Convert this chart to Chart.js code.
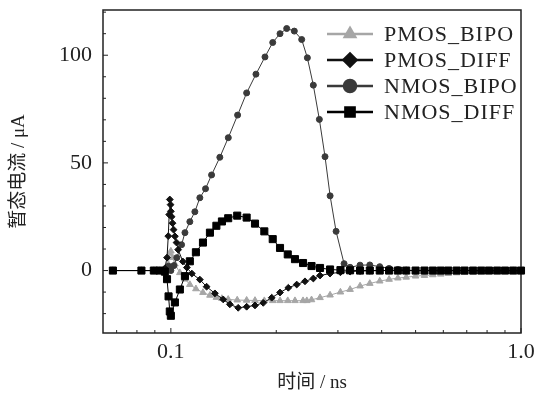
<!DOCTYPE html>
<html>
<head>
<meta charset="utf-8">
<script src="https://cdn.jsdelivr.net/npm/chart.js@4"></script>
<style>
  html, body { margin: 0; padding: 0; background: #fff; }
  #wrap { width: 539px; height: 397px; }
</style>
</head>
<body>
<div id="wrap"><canvas id="currentChart" width="539" height="397"></canvas></div>
<script>
// Transient current (uA) vs. time (ns) for each device / collection mechanism
const seriesNames = ['PMOS_BIPO', 'PMOS_DIFF', 'NMOS_BIPO', 'NMOS_DIFF'];

const pmosBipoTime = [0.0683, 0.0824, 0.0894, 0.093, 0.0961, 0.0983, 0.0993, 0.1, 0.1011, 0.1027,
  0.1061, 0.1097, 0.1133, 0.1179, 0.1235, 0.1293, 0.1349, 0.1399, 0.1458, 0.1547, 0.1646, 0.1739,
  0.1849, 0.1954, 0.205, 0.2157, 0.2262, 0.2385, 0.2445, 0.2522, 0.2667, 0.2849,
  0.305, 0.325, 0.347, 0.37, 0.395, 0.42, 0.445, 0.47, 0.5, 0.53, 0.56, 0.59, 0.62, 0.655, 0.69,
  0.73, 0.77, 0.81, 0.855, 0.9, 0.95, 1.0];
const pmosBipoCurrent = [0, 0, 0, 0, 0, 3, 8, 9, 6, 3,
  -1, -4, -6.5, -8.5, -10.2, -11.5, -12.5, -13, -13.4, -13.7, -13.8, -13.9,
  -14, -14, -14, -14, -14, -14, -14, -13.6, -12.6, -11.4,
  -10, -8.8, -7.2, -6, -4.9, -4.1, -3.5, -3.1, -2.6, -2.3, -2, -1.7, -1.4, -1.1, -0.9,
  -0.7, -0.5, -0.4, -0.25, -0.15, -0.05, 0];

const pmosDiffTime = [0.0683, 0.0824, 0.0894, 0.093, 0.0961, 0.0975, 0.0983, 0.0989, 0.0993, 0.0998,
  0.1, 0.1005, 0.1011, 0.1018, 0.1027, 0.1038, 0.1049,
  0.1082, 0.1111, 0.1148, 0.121, 0.1265, 0.1336, 0.1411, 0.1474, 0.1557, 0.1646, 0.1739, 0.1836,
  0.1941, 0.205, 0.2165, 0.2288, 0.2416, 0.2552, 0.2667, 0.2849,
  0.305, 0.325, 0.347, 0.37, 0.395, 0.42, 0.445, 0.47, 0.5, 0.53, 0.56, 0.59, 0.62, 0.655, 0.69,
  0.73, 0.77, 0.81, 0.855, 0.9, 0.95, 1.0];
const pmosDiffCurrent = [0, 0, 0, 0, 1, 6, 16, 26, 33, 30.6,
  27.5, 25, 22, 19, 15.9, 13, 9.7,
  4.2, 1.4, -1.4, -4.2, -7.5, -10.6, -13.4, -15.7, -17.3, -16.8, -16.2, -15,
  -12.6, -10.2, -8, -6.5, -5, -3.7, -2.3, -1.4,
  -0.8, -0.5, -0.2, -0.1, 0, 0, 0, 0, 0, 0, 0, 0, 0, 0, 0,
  0, 0, 0, 0, 0, 0, 0];

const nmosBipoTime = [0.0683, 0.0824, 0.0894, 0.093, 0.0961, 0.0985, 0.1, 0.102, 0.104, 0.1073,
  0.1097, 0.1133, 0.1171, 0.121, 0.1256, 0.1307, 0.138, 0.1459, 0.1551, 0.1646, 0.175, 0.1857,
  0.1954, 0.205, 0.2142, 0.2252, 0.2364, 0.2454, 0.2552, 0.2655, 0.2756, 0.285, 0.2964, 0.3124,
  0.325, 0.347, 0.37, 0.395, 0.42, 0.445, 0.47, 0.5, 0.53, 0.56, 0.59, 0.62, 0.655, 0.69,
  0.73, 0.77, 0.81, 0.855, 0.9, 0.95, 1.0];
const nmosBipoCurrent = [0, 0, 0, 0, -1, 2, 0, 2.3, 6, 12,
  17.6, 22.7, 27.3, 33.8, 38, 44.4, 52.6, 61.7, 72.2, 82.5, 91.2, 99.2,
  105.9, 110, 112.4, 111.2, 107.3, 98.8, 86.1, 70.2, 52.9, 34.7, 18.2, 3.2,
  1.5, 2.5, 2.6, 1.8, 1.0, 0.5, 0.2, 0, 0, 0, 0, 0, 0, 0,
  0, 0, 0, 0, 0, 0, 0];

const nmosDiffTime = [0.0683, 0.0824, 0.0894, 0.093, 0.0961, 0.0975, 0.0985, 0.0993, 0.1,
  0.1027, 0.1061, 0.1097, 0.1133, 0.1179, 0.1235, 0.1293, 0.1349, 0.1399, 0.1458, 0.1547, 0.1646,
  0.1739, 0.1849, 0.1954, 0.205, 0.2157, 0.2262, 0.2385, 0.2522, 0.2667, 0.2849,
  0.305, 0.325, 0.347, 0.37, 0.395, 0.42, 0.445, 0.47, 0.5, 0.53, 0.56, 0.59, 0.62, 0.655, 0.69,
  0.73, 0.77, 0.81, 0.855, 0.9, 0.95, 1.0];
const nmosDiffCurrent = [0, 0, 0, 0, -0.5, -4, -12, -19, -21,
  -14.8, -8.8, -2.6, 4.3, 8.5, 13, 17.6, 20.8, 22.8, 24.3, 25.5, 24.6,
  21.8, 18.2, 14.6, 10.5, 7.5, 5.3, 3.5, 2.1, 1.2, 0.5,
  0.2, 0.1, 0, 0, 0, 0, 0, 0, 0, 0, 0, 0, 0, 0, 0,
  0, 0, 0, 0, 0, 0, 0];

// axis ticks
const xTickLabels = [0.1, 1.0];
const xMinorTicks = [0.07, 0.08, 0.09, 0.2, 0.3, 0.4, 0.5, 0.6, 0.7, 0.8, 0.9];
const yTickLabels = [0, 50, 100];
const yMinorTicks = [-20, -10, 10, 20, 30, 40, 60, 70, 80, 90, 110, 120];

const toPoints = (ts, vs) => ts.map((t, i) => ({ x: t, y: vs[i] }));

const serifFont = "'Liberation Serif', 'DejaVu Serif', serif";
const titleFont = "'Liberation Serif', 'Noto Sans CJK SC', serif";
const ink = '#222';

// inward tick marks and a closed frame around the plot
const frameTicks = {
  id: 'frameTicks',
  beforeDatasetsDraw(chart) {
    const { ctx, chartArea: a, scales: { x, y } } = chart;
    ctx.save();
    ctx.strokeStyle = ink;
    ctx.lineWidth = 1;
    ctx.beginPath();
    xTickLabels.forEach(v => { const p = x.getPixelForValue(v); ctx.moveTo(p, a.bottom); ctx.lineTo(p, a.bottom - 5); });
    xMinorTicks.forEach(v => { const p = x.getPixelForValue(v); ctx.moveTo(p, a.bottom); ctx.lineTo(p, a.bottom - 3); });
    yTickLabels.forEach(v => { const p = y.getPixelForValue(v); ctx.moveTo(a.left, p); ctx.lineTo(a.left + 5, p); });
    yMinorTicks.forEach(v => { const p = y.getPixelForValue(v); ctx.moveTo(a.left, p); ctx.lineTo(a.left + 3, p); });
    ctx.stroke();
    ctx.lineWidth = 1.5;
    ctx.strokeRect(a.left, a.top, a.right - a.left, a.bottom - a.top);
    ctx.restore();
  }
};

// legend: line through a large marker, label to the right
const markerLegend = {
  id: 'markerLegend',
  afterDraw(chart) {
    const ctx = chart.ctx;
    const sizes = [6, 6.5, 6, 6.5];
    ctx.save();
    chart.data.datasets.forEach((ds, i) => {
      const yRow = 34 + i * 26;
      ctx.strokeStyle = ds.borderColor;
      ctx.fillStyle = ds.pointBackgroundColor;
      ctx.lineWidth = 2.5;
      ctx.beginPath();
      ctx.moveTo(327, yRow);
      ctx.lineTo(373, yRow);
      ctx.stroke();
      ctx.strokeStyle = ds.pointBorderColor;
      Chart.helpers.drawPoint(ctx, { pointStyle: ds.pointStyle, radius: sizes[i], rotation: 0, borderWidth: 1 }, 350, yRow);
      ctx.fillStyle = ink;
      ctx.font = '22px ' + serifFont;
      ctx.letterSpacing = '1px';
      ctx.textBaseline = 'middle';
      ctx.textAlign = 'left';
      ctx.fillText(ds.label, 384, yRow + 1);
    });
    ctx.restore();
  }
};

const lineSet = (label, pts, color, style, radius, order) => ({
  label: label,
  data: pts,
  borderColor: color,
  borderWidth: 1,
  pointStyle: style,
  pointRadius: radius,
  pointBackgroundColor: color,
  pointBorderColor: color,
  pointBorderWidth: 1,
  tension: 0,
  clip: false,
  order: order
});

new Chart(document.getElementById('currentChart'), {
  type: 'line',
  data: {
    datasets: [
      lineSet(seriesNames[0], toPoints(pmosBipoTime, pmosBipoCurrent), '#a6a6a6', 'triangle', 3.8, 3),
      lineSet(seriesNames[1], toPoints(pmosDiffTime, pmosDiffCurrent), '#111', 'rectRot', 3.4, 1),
      lineSet(seriesNames[2], toPoints(nmosBipoTime, nmosBipoCurrent), '#3a3a3a', 'circle', 3, 2),
      lineSet(seriesNames[3], toPoints(nmosDiffTime, nmosDiffCurrent), '#000', 'rect', 5, 0)
    ]
  },
  options: {
    responsive: false,
    animation: false,
    devicePixelRatio: 1,
    layout: { padding: { left: 0, right: 18, top: 10, bottom: 0 } },
    plugins: { legend: { display: false }, tooltip: { enabled: false } },
    scales: {
      x: {
        type: 'logarithmic',
        min: 0.064,
        max: 1.0,
        grid: { display: false, drawTicks: false },
        border: { display: false },
        afterBuildTicks: s => { s.ticks = xTickLabels.map(v => ({ value: v })); },
        afterFit: s => { s.height = 64; s.paddingLeft = 0; s.paddingRight = 0; },
        ticks: {
          autoSkip: false,
          maxRotation: 0,
          padding: 6,
          color: ink,
          font: { family: serifFont, size: 22 },
          callback: v => Number(v).toFixed(1)
        },
        title: {
          display: true,
          text: '时间 / ns',
          color: ink,
          font: { family: titleFont, size: 19 },
          padding: { top: 0, bottom: 3 }
        }
      },
      y: {
        min: -29,
        max: 121,
        grid: { display: false, drawTicks: false },
        border: { display: false },
        afterBuildTicks: s => { s.ticks = yTickLabels.map(v => ({ value: v })); },
        afterFit: s => { s.width = 103; s.paddingTop = 0; s.paddingBottom = 0; },
        ticks: {
          padding: 11,
          color: ink,
          font: { family: serifFont, size: 22 }
        },
        title: {
          display: true,
          text: '暂态电流 / μA',
          color: ink,
          font: { family: titleFont, size: 19 },
          padding: { top: 8, bottom: 0 }
        }
      }
    }
  },
  plugins: [frameTicks, markerLegend]
});
</script>
</body>
</html>
